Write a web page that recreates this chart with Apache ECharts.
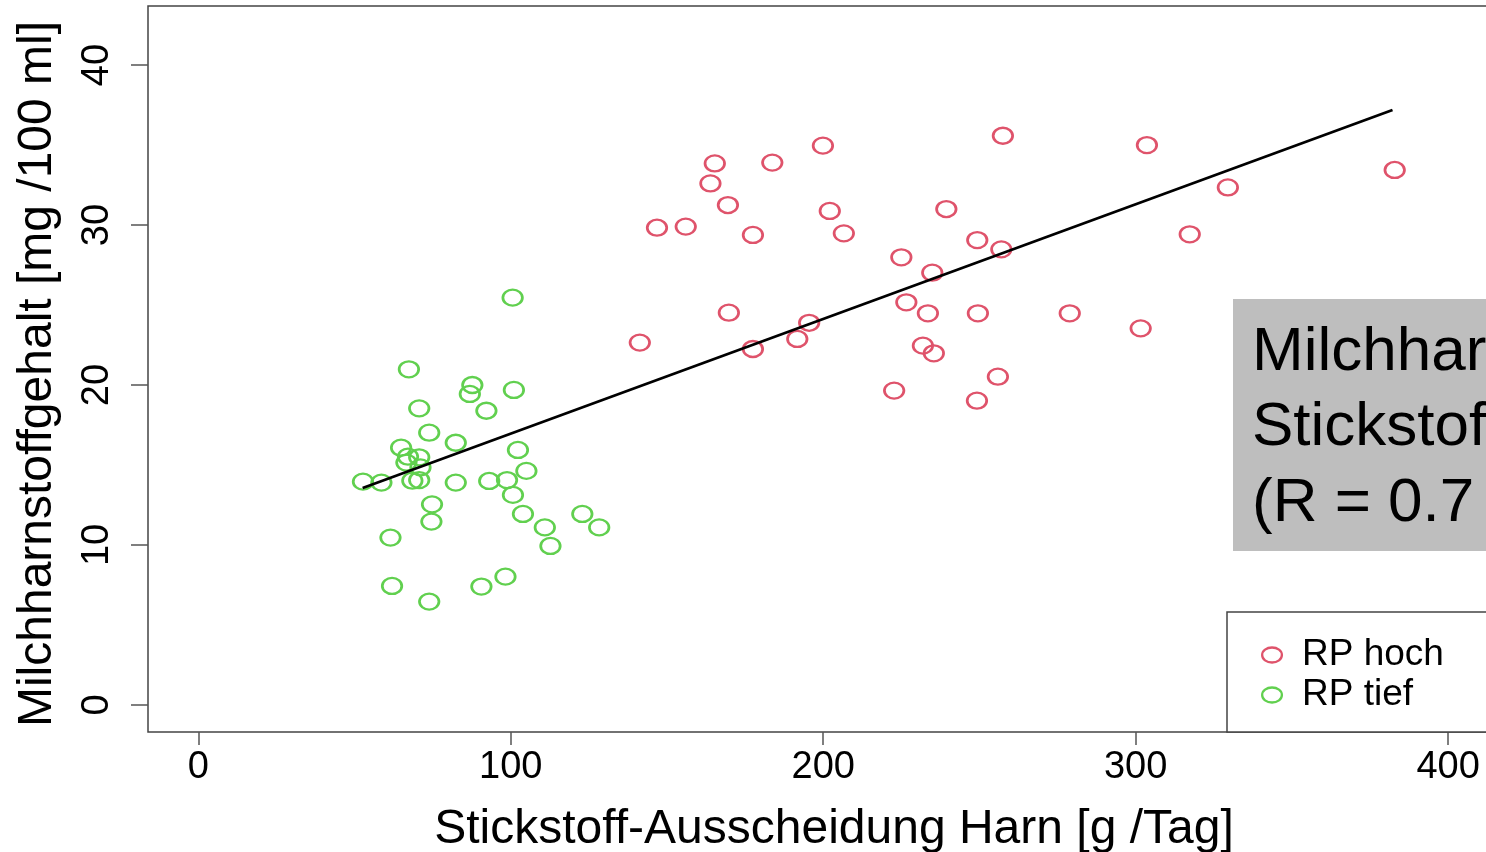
<!DOCTYPE html>
<html>
<head>
<meta charset="utf-8">
<script src="https://cdn.jsdelivr.net/npm/echarts@6/dist/echarts.min.js"></script>
<style>
  html, body { margin: 0; padding: 0; background: #fff; overflow: hidden; width: 1486px; height: 852px; }
  #chart { width: 1540px; height: 852px; }
</style>
</head>
<body>
<div id="chart"></div>
<script>
// ---- data ----
const redX = [146.8, 156.0, 165.3, 163.9, 169.5, 183.7, 199.9, 202.1, 177.5, 206.6,
              257.5, 239.4, 249.3, 257.0, 225.0, 234.9, 226.6, 233.5, 249.5, 169.8,
              195.5, 191.7, 177.5, 141.3, 231.9, 235.4, 255.9, 222.7, 249.2, 317.3,
              278.9, 301.6, 303.6, 329.5, 382.9];
const redY = [29.83, 29.9, 33.85, 32.6, 31.25, 33.9, 34.96, 30.88, 29.38, 29.48,
              35.58, 31.0, 29.06, 28.48, 27.98, 27.02, 25.17, 24.48, 24.48, 24.52,
              23.89, 22.88, 22.25, 22.65, 22.46, 21.98, 20.52, 19.65, 19.02, 29.42,
              24.48, 23.54, 35.0, 32.35, 33.44];
const greenX = [52.7, 58.6, 61.5, 62.0, 64.9, 66.6, 67.1, 67.4, 68.5, 70.7,
                70.7, 70.7, 71.1, 73.9, 73.9, 74.8, 74.6, 82.4, 82.4, 86.9,
                87.7, 90.6, 92.2, 93.1, 98.3, 98.8, 100.6, 100.7, 101.0, 102.3,
                103.9, 105.0, 110.9, 112.7, 122.9, 128.3];
const greenY = [13.96, 13.9, 10.46, 7.44, 16.08, 15.15, 15.52, 20.98, 14.02, 18.54,
                15.48, 14.06, 14.85, 17.02, 6.46, 12.54, 11.46, 16.39, 13.9, 19.44,
                20.0, 7.4, 18.39, 14.0, 8.02, 14.06, 25.46, 13.13, 19.69, 15.94,
                11.94, 14.63, 11.1, 9.94, 11.94, 11.1];
const fitX = [52.6, 382.2];
const fitY = [13.56, 37.19];
const xTicks = [0, 100, 200, 300, 400];
const yTicks = [0, 10, 20, 30, 40];
const seriesNames = ['RP hoch', 'RP tief'];
const xTitle = 'Stickstoff-Ausscheidung Harn [g /Tag]';
const yTitle = 'Milchharnstoffgehalt [mg /100 ml]';
const noteLines = ['Milchharnstoff', 'Stickstoff', '(R = 0.7'];

// ---- styling ----
const RED = '#DF536B';
const GREEN = '#61D04F';
const FONT = '"Liberation Sans", Arial, Helvetica, sans-serif';
const ELLIPSE = 'path://M0,50a50,50 0 1,0 100,0a50,50 0 1,0 -100,0z';
const LEG_ICON = 'path://M0,38a50,38 0 1,0 100,0a50,38 0 1,0 -100,0z';

const zip = (a, b) => a.map((v, i) => [v, b[i]]);

const chart = echarts.init(document.getElementById('chart'), null, { renderer: 'canvas' });
chart.setOption({
  animation: false,
  backgroundColor: '#ffffff',
  textStyle: { fontFamily: FONT },
  grid: {
    left: 148, top: 6, width: 1372, height: 726,
    outerBoundsMode: 'none', containLabel: false,
    show: true, borderColor: '#444', borderWidth: 1.5, backgroundColor: 'transparent'
  },
  xAxis: {
    type: 'value', min: -16.1, max: 423,
    name: xTitle, nameLocation: 'middle', nameGap: 74,
    nameTextStyle: { fontSize: 48, color: '#000', fontFamily: FONT },
    axisLine: { show: false, onZero: false },
    splitLine: { show: false },
    axisTick: { show: true, length: 13, lineStyle: { color: '#555', width: 1.5 }, customValues: xTicks },
    axisLabel: { fontSize: 38, color: '#000', margin: 17, customValues: xTicks, fontFamily: FONT }
  },
  yAxis: {
    type: 'value', min: -1.69, max: 43.69,
    name: yTitle, nameLocation: 'middle', nameGap: 86,
    nameTextStyle: { fontSize: 48, color: '#000', fontFamily: FONT, padding: [0, 10, 0, 0] },
    axisLine: { show: false, onZero: false },
    splitLine: { show: false },
    axisTick: { show: true, length: 17, lineStyle: { color: '#555', width: 1.5 }, customValues: yTicks },
    axisLabel: { fontSize: 38, color: '#000', margin: 31, rotate: 90, customValues: yTicks, fontFamily: FONT }
  },
  legend: {
    orient: 'vertical', left: 1227, top: 612,
    padding: [24.5, 300, 18.5, 34], itemGap: 3,
    itemWidth: 50, itemHeight: 15, symbolKeepAspect: true,
    borderColor: '#444', borderWidth: 1.5, backgroundColor: '#fff',
    selectedMode: false,
    textStyle: { fontSize: 37, color: '#000', fontFamily: FONT },
    data: [
      { name: seriesNames[0], icon: LEG_ICON, itemStyle: { color: 'rgba(0,0,0,0)', borderColor: RED, borderWidth: 2.3 } },
      { name: seriesNames[1], icon: LEG_ICON, itemStyle: { color: 'rgba(0,0,0,0)', borderColor: GREEN, borderWidth: 2.3 } }
    ]
  },
  graphic: [
    {
      type: 'rect', left: 1233, top: 299, z: 10,
      shape: { width: 400, height: 252 },
      style: { fill: '#BEBEBE' }
    },
    {
      type: 'text', left: 1252, top: 315, z: 11,
      style: { text: noteLines.join('\n'), font: '62px ' + FONT, fill: '#000', lineHeight: 75.5 }
    }
  ],
  series: [
    {
      name: 'fit', type: 'line', data: zip(fitX, fitY), showSymbol: false, symbol: 'none',
      lineStyle: { color: '#000', width: 2.8 }, z: 3, silent: true
    },
    {
      name: seriesNames[0], type: 'scatter', data: zip(redX, redY),
      symbol: ELLIPSE, symbolSize: [19.5, 16],
      itemStyle: { color: 'rgba(0,0,0,0)', borderColor: RED, borderWidth: 2.5, opacity: 1 }, z: 2
    },
    {
      name: seriesNames[1], type: 'scatter', data: zip(greenX, greenY),
      symbol: ELLIPSE, symbolSize: [19.5, 16],
      itemStyle: { color: 'rgba(0,0,0,0)', borderColor: GREEN, borderWidth: 2.5, opacity: 1 }, z: 2
    }
  ]
});
</script>
</body>
</html>
